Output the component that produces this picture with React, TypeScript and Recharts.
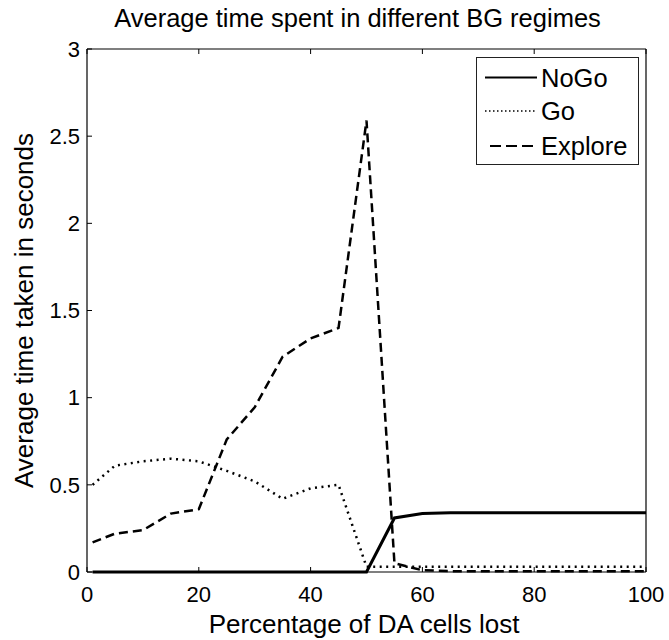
import React from "react";
import { LineChart, Line, XAxis, YAxis, Legend, Label } from "recharts";

// Percentage of DA cells lost (x) and mean time per regime (s)
const pctLost = [1, 5, 10, 15, 20, 25, 30, 35, 40, 45, 50, 55, 60, 65, 70, 75, 80, 85, 90, 95, 100];
const noGoTime = [0, 0, 0, 0, 0, 0, 0, 0, 0, 0, 0, 0.31, 0.335, 0.34, 0.34, 0.34, 0.34, 0.34, 0.34, 0.34, 0.34];
const goTime = [0.5, 0.61, 0.635, 0.65, 0.635, 0.58, 0.52, 0.42, 0.48, 0.5, 0.03, 0.03, 0.03, 0.03, 0.03, 0.03, 0.03, 0.03, 0.03, 0.03, 0.03];
const exploreTime = [0.17, 0.22, 0.24, 0.335, 0.36, 0.76, 0.945, 1.235, 1.34, 1.4, 2.59, 0.05, 0.01, 0.005, 0.005, 0.005, 0.005, 0.005, 0.005, 0.005, 0.005];

const xTicks = [0, 20, 40, 60, 80, 100];
const yTicks = [0, 0.5, 1, 1.5, 2, 2.5, 3];

const data = pctLost.map((p, i) => ({
  pct: p,
  noGo: noGoTime[i],
  go: goTime[i],
  explore: exploreTime[i],
}));

const FONT = "'Liberation Sans', Arial, Helvetica, sans-serif";

const SERIES = [
  { key: "noGo", name: "NoGo", dash: undefined as string | undefined },
  { key: "go", name: "Go", dash: "2 4.5" },
  { key: "explore", name: "Explore", dash: "9 5" },
];

const tickStyle = { fill: "#000", fontSize: 22, fontFamily: FONT };
const lineAxis = { stroke: "#000", strokeWidth: 1.2 };
const noLabel = () => "";

function TitleLabel(props: any) {
  const vb = props.viewBox ?? { x: 87, y: 48, width: 559, height: 1 };
  return (
    <text x={vb.x + vb.width / 2 - 9} y={vb.y - 21} textAnchor="middle"
      fontSize={25.5} fontFamily={FONT} fill="#000">
      Average time spent in different BG regimes
    </text>
  );
}

function XTitle(props: any) {
  const vb = props.viewBox ?? { x: 87, y: 572, width: 559, height: 1 };
  return (
    <text x={vb.x + vb.width / 2 - 2.5} y={vb.y + 61} textAnchor="middle"
      fontSize={26} fontFamily={FONT} fill="#000">
      Percentage of DA cells lost
    </text>
  );
}

function YTitle(props: any) {
  const vb = props.viewBox ?? { x: 86, y: 49, width: 1, height: 523 };
  const cx = vb.x + vb.width - 54;
  const cy = vb.y + vb.height / 2;
  return (
    <text x={cx} y={cy} transform={`rotate(-90 ${cx} ${cy})`} textAnchor="middle"
      fontSize={26} fontFamily={FONT} fill="#000">
      Average time taken in seconds
    </text>
  );
}

// boxed legend in the upper right corner, line sample + name per row
function RegimeLegend() {
  const rows = [19.5, 53, 88];
  return (
    <div style={{ width: 163, height: 108, border: "1.2px solid #222", background: "#fff", boxSizing: "border-box" }}>
      <svg width={161} height={106} style={{ display: "block" }}>
        {SERIES.map((s, i) => (
          <g key={s.key}>
            <line x1={s.key === "explore" ? 13 : 8} x2={60} y1={rows[i]} y2={rows[i]}
              stroke="#000" strokeWidth={s.key === "go" ? 1.5 : 2} strokeDasharray={s.key === "go" ? "1.5 2.5" : s.key === "explore" ? "11 5" : undefined} />
            <text x={64} y={rows[i] + 9} fontSize={25.5} fontFamily={FONT} fill="#000">{s.name}</text>
          </g>
        ))}
      </svg>
    </div>
  );
}

export default function App() {
  return (
    <div style={{ position: "absolute", left: 0, top: 0, width: 669, height: 640, background: "#fff" }}>
      <LineChart width={669} height={640} data={data}
        margin={{ top: 48, right: 22, bottom: 67, left: 86 }}
        style={{ fontFamily: FONT }}>
        <XAxis dataKey="pct" type="number" domain={[0, 100]} ticks={xTicks}
          height={1} tickSize={-5} tickMargin={19} tick={tickStyle}
          axisLine={lineAxis} tickLine={{ stroke: "#000" }} interval={0}>
          <Label content={XTitle} />
        </XAxis>
        <XAxis xAxisId="top" orientation="top" dataKey="pct" type="number" domain={[0, 100]} ticks={xTicks}
          height={1} tickSize={-5} tickFormatter={noLabel} tick={tickStyle}
          axisLine={lineAxis} tickLine={{ stroke: "#000" }} interval={0}>
          <Label content={TitleLabel} />
        </XAxis>
        <YAxis type="number" domain={[0, 3]} ticks={yTicks} width={1}
          tickSize={-5} tickMargin={12} tick={tickStyle}
          axisLine={lineAxis} tickLine={{ stroke: "#000" }} interval={0}>
          <Label content={YTitle} />
        </YAxis>
        <YAxis yAxisId="right" orientation="right" type="number" domain={[0, 3]} ticks={yTicks} width={1}
          tickSize={-5} tickFormatter={noLabel} tick={tickStyle}
          axisLine={lineAxis} tickLine={{ stroke: "#000" }} interval={0} />
        <Legend layout="vertical" verticalAlign="middle" align="center"
          content={RegimeLegend}
          wrapperStyle={{ position: "absolute", left: 476, top: 57, width: 163, height: 108 }} />
        {SERIES.map((s) => (
          <Line key={s.key} type="linear" dataKey={s.key} name={s.name}
            stroke="#000" strokeWidth={s.key === "noGo" ? 3 : 2.5}
            strokeDasharray={s.dash} dot={false} activeDot={false}
            isAnimationActive={false} />
        ))}
      </LineChart>
    </div>
  );
}
